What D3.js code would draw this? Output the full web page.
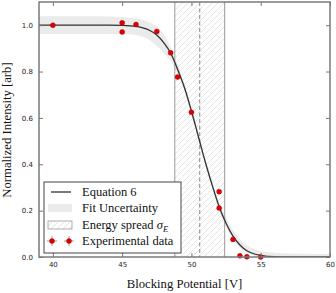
<!DOCTYPE html>
<html>
<head>
<meta charset="utf-8">
<script src="https://cdn.jsdelivr.net/npm/d3@7"></script>
<style>
  body { margin: 0; background: #fff; }
  svg { display: block; }
  .serif { font-family: "Liberation Serif", "Times New Roman", serif; }
</style>
</head>
<body>
<div id="chart"></div>
<script>
// Experimental data (blocking potential in V, normalized intensity)
const expV = [40, 45, 45, 46, 47.5, 48.5, 49, 50, 52, 52, 53, 53.5, 54, 55];
const expI = [1.0, 1.01, 0.971, 1.003, 0.973, 0.881, 0.776, 0.624, 0.282, 0.211, 0.076, 0.005, 0.001, 0.0];

// Fitted curve (Equation 6) and its uncertainty band
const fitV = [39, 40, 42, 44, 45, 46, 46.5, 47, 47.5, 48, 48.5, 49, 49.5, 50, 50.5, 51, 51.5, 52, 52.5, 53, 53.5, 54, 54.5, 55, 56, 57, 58, 60];
const fitI = [1.0, 1.0, 1.0, 1.0, 0.999, 0.995, 0.988, 0.977, 0.958, 0.925, 0.88, 0.81, 0.73, 0.63, 0.52, 0.41, 0.31, 0.217, 0.146, 0.09, 0.052, 0.027, 0.014, 0.007, 0.001, 0, 0, 0];
const fitUpper = [1.038, 1.038, 1.038, 1.037, 1.035, 1.03, 1.022, 1.01, 0.995, 0.96, 0.905, 0.83, 0.745, 0.645, 0.535, 0.425, 0.325, 0.235, 0.17, 0.115, 0.075, 0.05, 0.035, 0.026, 0.018, 0.015, 0.014, 0.013];
const fitLower = [0.962, 0.962, 0.962, 0.962, 0.962, 0.958, 0.95, 0.935, 0.91, 0.88, 0.845, 0.79, 0.715, 0.615, 0.505, 0.395, 0.295, 0.2, 0.13, 0.075, 0.04, 0.018, 0.007, 0.002, 0, 0, 0, 0];

// Energy spread region
const spreadLow = 48.8;
const spreadCenter = 50.6;
const spreadHigh = 52.4;

const xTicks = [40, 45, 50, 55, 60];
const yTicks = [0.0, 0.2, 0.4, 0.6, 0.8, 1.0];

const legendLabels = ["Equation 6", "Fit Uncertainty", "Energy spread ", "Experimental data"];

const W = 336, H = 293;
const margin = {top: 2, right: 6, bottom: 36, left: 39};
const width = W - margin.left - margin.right;
const height = H - margin.top - margin.bottom;

const svg = d3.select("#chart").append("svg")
    .attr("width", W)
    .attr("height", H);

const defs = svg.append("defs");
defs.append("clipPath").attr("id", "clip")
    .append("rect").attr("width", width).attr("height", height);

const hatch = defs.append("pattern")
    .attr("id", "hatch")
    .attr("patternUnits", "userSpaceOnUse")
    .attr("width", 6).attr("height", 6);
hatch.append("path")
    .attr("d", "M-1,1 l2,-2 M0,6 l6,-6 M5,7 l2,-2")
    .attr("stroke", "#d2d2d2")
    .attr("stroke-width", 0.6);

const g = svg.append("g")
    .attr("transform", `translate(${margin.left},${margin.top})`);

const x = d3.scaleLinear().domain([39, 60]).range([0, width]);
const y = d3.scaleLinear().domain([0, 1.1]).range([height, 0]);

const plot = g.append("g").attr("clip-path", "url(#clip)");

// Fit uncertainty
const fitData = fitV.map((v, i) => ({v: v, i: fitI[i], hi: fitUpper[i], lo: fitLower[i]}));
plot.append("path")
    .datum(fitData)
    .attr("fill", "#ebebeb")
    .attr("d", d3.area()
        .curve(d3.curveMonotoneX)
        .x(d => x(d.v))
        .y0(d => y(d.lo))
        .y1(d => y(d.hi)));

// Energy spread band
plot.append("rect")
    .attr("x", x(spreadLow))
    .attr("y", 0)
    .attr("width", x(spreadHigh) - x(spreadLow))
    .attr("height", height)
    .attr("fill", "url(#hatch)");
[spreadLow, spreadHigh].forEach(v => {
  plot.append("line")
      .attr("x1", x(v)).attr("x2", x(v))
      .attr("y1", 0).attr("y2", height)
      .attr("stroke", "#999").attr("stroke-width", 1);
});
plot.append("line")
    .attr("x1", x(spreadCenter)).attr("x2", x(spreadCenter))
    .attr("y1", 0).attr("y2", height)
    .attr("stroke", "#888").attr("stroke-width", 1)
    .attr("stroke-dasharray", "4,2.5");

// Fit curve
plot.append("path")
    .datum(fitData)
    .attr("fill", "none")
    .attr("stroke", "#333")
    .attr("stroke-width", 1.3)
    .attr("d", d3.line()
        .curve(d3.curveMonotoneX)
        .x(d => x(d.v))
        .y(d => y(d.i)));

// Experimental points
g.append("g")
    .selectAll("circle")
    .data(expV.map((v, i) => ({v: v, i: expI[i]})))
    .join("circle")
    .attr("cx", d => x(d.v))
    .attr("cy", d => y(d.i))
    .attr("r", 2.5)
    .attr("fill", "#e00000")
    .attr("stroke", "#9a0000")
    .attr("stroke-width", 0.4);

// Axes (ticks inside, on all four sides)
const styleAxis = sel => {
  sel.select(".domain").remove();
  sel.selectAll("line").attr("stroke", "#777");
  sel.selectAll("text")
      .style("font-family", "'DejaVu Sans', sans-serif")
      .style("font-size", "7px")
      .attr("fill", "#222");
};

g.append("g")
    .attr("transform", `translate(0,${height})`)
    .call(d3.axisBottom(x).tickValues(xTicks).tickSizeInner(-4).tickSizeOuter(0).tickPadding(5).tickFormat(d3.format("d")))
    .call(styleAxis);
g.append("g")
    .call(d3.axisTop(x).tickValues(xTicks).tickSizeInner(-4).tickSizeOuter(0).tickFormat(""))
    .call(styleAxis);
g.append("g")
    .call(d3.axisLeft(y).tickValues(yTicks).tickSizeInner(-4).tickSizeOuter(0).tickPadding(6).tickFormat(d3.format(".1f")))
    .call(styleAxis);
g.append("g")
    .attr("transform", `translate(${width},0)`)
    .call(d3.axisRight(y).tickValues(yTicks).tickSizeInner(-4).tickSizeOuter(0).tickFormat(""))
    .call(styleAxis);

g.append("rect")
    .attr("width", width).attr("height", height)
    .attr("fill", "none")
    .attr("stroke", "#7a7a7a")
    .attr("stroke-width", 1.5);

// Axis labels
svg.append("text")
    .attr("class", "serif")
    .attr("x", margin.left + width / 2)
    .attr("y", 288)
    .attr("text-anchor", "middle")
    .style("font-size", "12.7px")
    .attr("fill", "#111")
    .text("Blocking Potential [V]");
svg.append("text")
    .attr("class", "serif")
    .attr("transform", `translate(11,130) rotate(-90)`)
    .attr("text-anchor", "middle")
    .style("font-size", "12.7px")
    .attr("fill", "#111")
    .text("Normalized Intensity [arb]");

// Legend
const legend = svg.append("g").attr("transform", "translate(44,182)");
legend.append("rect")
    .attr("width", 137).attr("height", 71)
    .attr("fill", "#fff")
    .attr("stroke", "#444")
    .attr("stroke-width", 1);

const rowY = [10, 26, 43, 59];
legend.append("line")
    .attr("x1", 7).attr("x2", 27).attr("y1", rowY[0]).attr("y2", rowY[0])
    .attr("stroke", "#333").attr("stroke-width", 1.3);
legend.append("rect")
    .attr("x", 4).attr("y", rowY[1] - 4).attr("width", 24).attr("height", 8)
    .attr("fill", "#ebebeb");
legend.append("rect")
    .attr("x", 4).attr("y", rowY[2] - 4).attr("width", 24).attr("height", 8)
    .attr("fill", "url(#hatch)")
    .attr("stroke", "#999").attr("stroke-width", 0.8);
[8, 25].forEach(cx => {
  legend.append("line")
      .attr("x1", cx - 5).attr("x2", cx + 5).attr("y1", rowY[3]).attr("y2", rowY[3])
      .attr("stroke", "#999").attr("stroke-width", 1);
  legend.append("line")
      .attr("x1", cx).attr("x2", cx).attr("y1", rowY[3] - 5).attr("y2", rowY[3] + 5)
      .attr("stroke", "#999").attr("stroke-width", 1);
  legend.append("circle")
      .attr("cx", cx).attr("cy", rowY[3]).attr("r", 2.5)
      .attr("fill", "#e00000").attr("stroke", "#9a0000").attr("stroke-width", 0.4);
});

legendLabels.forEach((lab, i) => {
  const t = legend.append("text")
      .attr("class", "serif")
      .attr("x", 38)
      .attr("y", rowY[i])
      .attr("dy", "0.35em")
      .style("font-size", "12.5px")
      .attr("fill", "#111")
      .text(lab);
  if (i === 2) {
    t.append("tspan").style("font-style", "italic").text("σ");
    t.append("tspan").style("font-style", "italic").style("font-size", "8.5px").attr("dy", "0.3em").text("E");
  }
});
</script>
</body>
</html>
